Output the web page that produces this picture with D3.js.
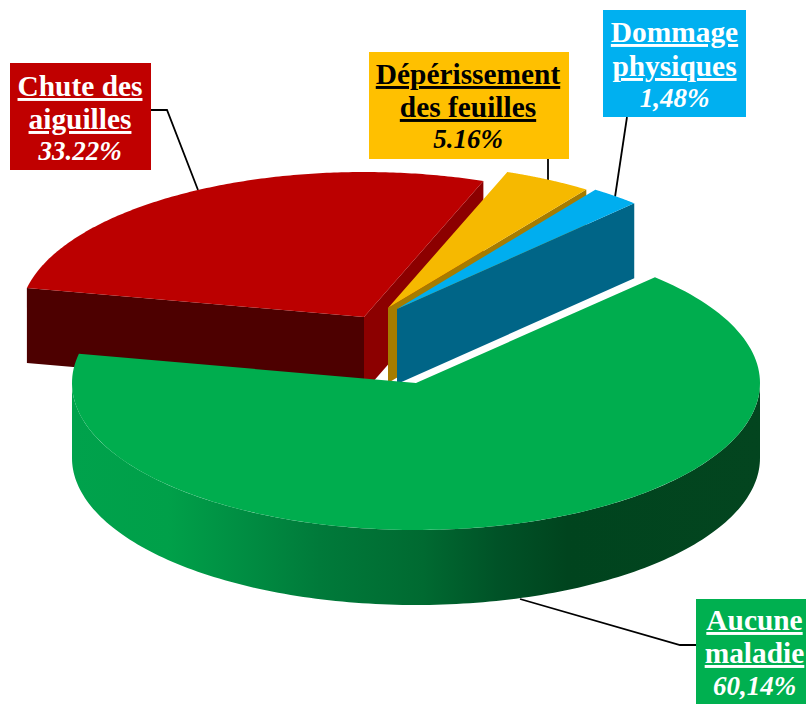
<!DOCTYPE html>
<html><head><meta charset="utf-8">
<script src="https://d3js.org/d3.v7.min.js"></script>
<style>html,body{margin:0;padding:0;background:#fff}svg{display:block}
text{font-family:"Liberation Serif",serif;font-weight:bold;text-anchor:middle}</style></head>
<body><svg id="c" width="806" height="704"></svg>
<script>
// Data
const categories = ["Aucune maladie","Chute des aiguilles","Dépérissement des feuilles","Dommage physiques"];
const values = [60.14,33.22,5.16,1.48];
const percentLabels = ["60,14%","33.22%","5.16%","1,48%"];
const labelLines = [["Aucune","maladie"],["Chute des","aiguilles"],["Dépérissement","des feuilles"],["Dommage","physiques"]];

// Styles
const topColors  = ["#00ad4e","#bb0000","#f6b900","#00aeef"];
const boxColors  = ["#00b050","#c00000","#ffc000","#00b0f0"];
const textColors = ["#fff","#fff","#000","#fff"];
const wallEnd    = ["none","#8c0000","#a67c00","#006587"];
const wallStart  = ["none","#4d0000","none","none"];

// 3D layout: screen angle of each slice boundary (perspective distorts them)
const deg = Math.PI/180;
const screenStops = [44,281.5,380.3,395.2,403.6];
const centres = [[416,383],[364,317],[388,308],[397,309]];
const rx = 344, radiiY = [147,145,145,146], depth = 75;

const boxes = [[696,599,110,105],[10,63,141,107],[369,52,200,107],[603,10,143,107]];
const textX = [754.5,80,468,674.5];
const baselines = [[630,663,695],[96,129,160],[84,117,148],[42,76,107]];
const leaders = [
  [[520,599],[680,645],[696,645]],
  [[151,110],[167,110],[198,190]],
  [[548,159],[548,181]],
  [[627,117],[615,197]]
];
const fontSize = 29.4, pctSize = 27;

const pie = d3.pie().sort(null).startAngle(44*deg).endAngle(404*deg);
const arcs = pie(values);
const boundaries = [arcs[0].startAngle, ...arcs.map(a=>a.endAngle)];
const angleScale = d3.scaleLinear().domain(boundaries).range(screenStops);

const pt = (i,a,dz=0)=>{
  const t = angleScale(a)*deg;
  return [centres[i][0]+rx*Math.sin(t), centres[i][1]-radiiY[i]*Math.cos(t)+dz];
};
const line = d3.line();
const sample = (i,a0,a1,dz=0)=>d3.range(161).map(k=>pt(i,a0+(a1-a0)*k/160,dz));

const svg = d3.select("#c");
const defs = svg.append("defs");
const grad = defs.append("linearGradient").attr("id","gw").attr("gradientUnits","userSpaceOnUse")
  .attr("x1",72).attr("x2",760).attr("y1",0).attr("y2",0);
[[0,"#00a24c"],[0.14,"#00a049"],[0.24,"#008f43"],[0.36,"#007a3a"],[0.51,"#006a31"],[0.62,"#005227"],[0.72,"#00441e"],[1,"#03451f"]]
  .forEach(([o,c])=>grad.append("stop").attr("offset",o).attr("stop-color",c));

// Leaders
leaders.forEach(l=>svg.append("path").attr("d",line(l)).attr("fill","none").attr("stroke","#000").attr("stroke-width",1.8));

function cutFace(i,angle,color){
  const c = centres[i], p = pt(i,angle);
  svg.append("path").attr("d",line([c,p,[p[0],p[1]+depth],[c[0],c[1]+depth]])+"Z").attr("fill",color);
}
function topFace(i){
  svg.append("path").attr("d",line([centres[i],...sample(i,arcs[i].startAngle,arcs[i].endAngle)])+"Z").attr("fill",topColors[i]);
}
// Back slices first: red, yellow, blue
[1,2,3].forEach(i=>{
  cutFace(i,arcs[i].endAngle,wallEnd[i]);
  if(wallStart[i]!=="none") cutFace(i,arcs[i].startAngle,wallStart[i]);
  topFace(i);
});
// Front slice: green. Only the part of the rim that faces the viewer has a wall.
const rimA = angleScale.invert(90), rimB = angleScale.invert(270);
svg.append("path").attr("d",line([...sample(0,rimA,rimB),...sample(0,rimA,rimB,depth).reverse()])+"Z").attr("fill","url(#gw)");
topFace(0);

// Labels
categories.forEach((c,i)=>{
  const b = boxes[i];
  svg.append("rect").attr("x",b[0]).attr("y",b[1]).attr("width",b[2]).attr("height",b[3]).attr("fill",boxColors[i]);
  labelLines[i].forEach((t,k)=>svg.append("text").attr("x",textX[i]).attr("y",baselines[i][k])
    .attr("font-size",fontSize).attr("fill",textColors[i]).attr("text-decoration","underline").text(t));
  svg.append("text").attr("x",textX[i]).attr("y",baselines[i][2]).attr("font-size",pctSize)
    .attr("font-style","italic").attr("fill",textColors[i]).text(percentLabels[i]);
});
</script></body></html>
